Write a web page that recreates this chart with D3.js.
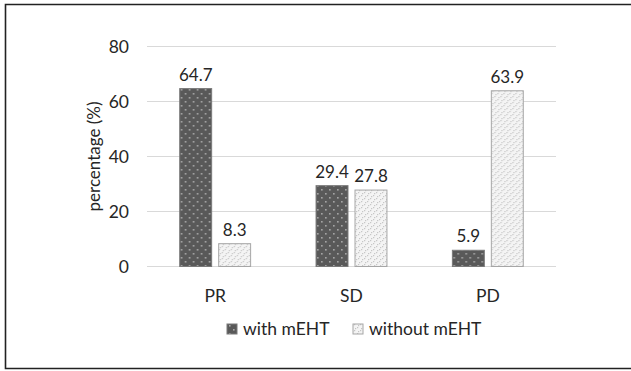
<!DOCTYPE html>
<html><head><meta charset="utf-8">
<script src="https://cdn.jsdelivr.net/npm/d3@7"></script>
<style>html,body{margin:0;padding:0;background:#fff;}svg{display:block;}</style>
</head><body>
<svg id="chart" width="631" height="371"></svg>
<script>
const categories = ["PR", "SD", "PD"];
const seriesNames = ["with mEHT", "without mEHT"];
const withMEHT = [64.7, 29.4, 5.9];
const withoutMEHT = [8.3, 27.8, 63.9];
const yTicks = [0, 20, 40, 60, 80];

const svg = d3.select("#chart");
const font = "Lato, 'Open Sans', sans-serif";
const txt = "#262626";
const W = 631, H = 371;

// frame
svg.append("path").attr("d", `M${W+2},4.5 H5.5 V368.5 H${W+2}`)
  .attr("fill", "none").attr("stroke", "#222").attr("stroke-width", 1.6);

const defs = svg.append("defs");
const pd = defs.append("pattern").attr("id", "pDark").attr("patternUnits", "userSpaceOnUse")
  .attr("width", 8).attr("height", 8);
pd.append("rect").attr("width", 8).attr("height", 8).attr("fill", "#595959");
pd.append("rect").attr("x", 1).attr("y", 1).attr("width", 1.6).attr("height", 1.6).attr("fill", "#a8a8a8");
pd.append("rect").attr("x", 5).attr("y", 5).attr("width", 1.6).attr("height", 1.6).attr("fill", "#a8a8a8");
const pl = defs.append("pattern").attr("id", "pLight").attr("patternUnits", "userSpaceOnUse")
  .attr("width", 6).attr("height", 6);
pl.append("rect").attr("width", 6).attr("height", 6).attr("fill", "#f4f4f4");
[[0,0],[3,3],[1,4],[4,1]].forEach(([x,y]) => pl.append("rect").attr("x", x).attr("y", y)
  .attr("width", 1.2).attr("height", 1.2).attr("fill", "#c4c4c4"));

const x0 = d3.scaleBand().domain(categories).range([147, 556]).paddingInner(0.48).paddingOuter(0.24);
const x1 = d3.scaleBand().domain(seriesNames).range([0, x0.bandwidth()]).paddingInner(0.18);
const y = d3.scaleLinear().domain([0, 80]).range([266.5, 46.5]);

// grid
svg.append("g").selectAll("line").data(yTicks).join("line")
  .attr("x1", 147).attr("x2", 556)
  .attr("y1", d => y(d)).attr("y2", d => y(d))
  .attr("stroke", "#d9d9d9").attr("stroke-width", 1.2);

// y axis labels
const yAxis = d3.axisLeft(y).tickValues(yTicks).tickSize(0).tickPadding(0);
const ya = svg.append("g").attr("transform", "translate(129,0)").call(yAxis);
ya.select(".domain").remove();
ya.selectAll("text").attr("font-family", font).attr("font-size", 17.5).attr("fill", txt).attr("dy", "0.35em");

// x axis labels
const xAxis = d3.axisBottom(x0).tickSize(0).tickPadding(0);
const xa = svg.append("g").attr("transform", "translate(0,290)").call(xAxis);
xa.select(".domain").remove();
xa.selectAll("text").attr("font-family", font).attr("font-size", 17.5).attr("fill", txt).attr("dy", "0.71em");

// y title
svg.append("text").attr("transform", `translate(100,${y(40)}) rotate(-90)`)
  .attr("text-anchor", "middle").attr("font-family", font).attr("font-size", 17).attr("fill", txt)
  .text("percentage (%)");

const rows = categories.map((c, i) => ({cat: c, vals: [withMEHT[i], withoutMEHT[i]]}));
const fills = ["url(#pDark)", "url(#pLight)"];
const groups = svg.append("g").selectAll("g").data(rows).join("g")
  .attr("transform", d => `translate(${x0(d.cat)},0)`);
groups.selectAll("rect").data(d => d.vals.map((v, j) => ({v, s: seriesNames[j], j}))).join("rect")
  .attr("x", d => x1(d.s)).attr("width", x1.bandwidth())
  .attr("y", d => y(d.v)).attr("height", d => y(0) - y(d.v))
  .attr("fill", d => fills[d.j]).attr("stroke", d => d.j ? "#a6a6a6" : "#7a7a7a").attr("stroke-width", 1);
groups.selectAll("text").data(d => d.vals.map((v, j) => ({v, s: seriesNames[j]}))).join("text")
  .attr("x", d => x1(d.s) + x1.bandwidth() / 2).attr("y", d => y(d.v) - 8)
  .attr("text-anchor", "middle").attr("font-family", font).attr("font-size", 17).attr("fill", txt)
  .text(d => d.v.toFixed(1));

// legend
const lg = svg.append("g");
const legX = [227, 353];
seriesNames.forEach((s, j) => {
  lg.append("rect").attr("x", legX[j]).attr("y", 324).attr("width", 10).attr("height", 10)
    .attr("fill", fills[j]).attr("stroke", j ? "#a6a6a6" : "#7a7a7a");
  lg.append("text").attr("x", legX[j] + 16).attr("y", 329).attr("dy", "0.35em")
    .attr("font-family", font).attr("font-size", 17.5).attr("fill", txt).text(s);
});
</script>
</body></html>
